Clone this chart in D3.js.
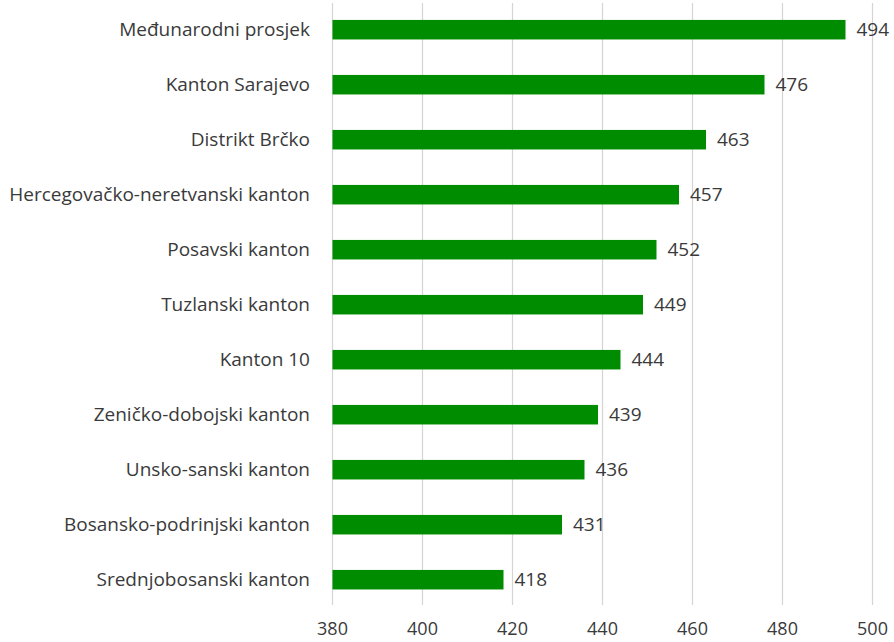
<!DOCTYPE html>
<html>
<head>
<meta charset="utf-8">
<script src="https://cdn.jsdelivr.net/npm/d3@7"></script>
<style>
  body { margin: 0; background: #fff; }
  svg { display: block; }
</style>
</head>
<body>
<svg width="894" height="642"></svg>
<script>
// categories top to bottom
var categories = [
    "Međunarodni prosjek",
    "Kanton Sarajevo",
    "Distrikt Brčko",
    "Hercegovačko-neretvanski kanton",
    "Posavski kanton",
    "Tuzlanski kanton",
    "Kanton 10",
    "Zeničko-dobojski kanton",
    "Unsko-sanski kanton",
    "Bosansko-podrinjski kanton",
    "Srednjobosanski kanton"
];
var values = [494, 476, 463, 457, 452, 449, 444, 439, 436, 431, 418];
var ticks = [380, 400, 420, 440, 460, 480, 500];

var data = [];
for (var i = 0; i < categories.length; i++) {
    data.push({name: categories[i], value: values[i]});
}

var svg = d3.select("svg"),
    font = "19px 'Open Sans', sans-serif";

var x = d3.scaleLinear()
    .domain([380, 500])
    .range([332.5, 872.5]);

var y = d3.scaleBand()
    .domain(categories)
    .range([2.2, 607.2])
    .paddingInner(0.645)
    .paddingOuter(0.3225);

// grid lines
svg.append("g")
    .selectAll("line")
    .data(ticks)
    .enter().append("line")
    .attr("x1", function (d) { return x(d); })
    .attr("x2", function (d) { return x(d); })
    .attr("y1", 3)
    .attr("y2", 605)
    .attr("stroke", "#d4d4d4")
    .attr("stroke-width", 1.2);

// x axis labels
svg.append("g")
    .selectAll("text")
    .data(ticks)
    .enter().append("text")
    .attr("x", function (d) { return x(d); })
    .attr("y", 635)
    .attr("text-anchor", "middle")
    .style("font", "18px 'Open Sans', sans-serif")
    .attr("fill", "#3a3a3a")
    .text(function (d) { return d; });

// bars
svg.append("g")
    .selectAll("rect")
    .data(data)
    .enter().append("rect")
    .attr("x", x(380))
    .attr("y", function (d) { return y(d.name); })
    .attr("width", function (d) { return x(d.value) - x(380); })
    .attr("height", y.bandwidth())
    .attr("fill", "#008c00");

// category labels
svg.append("g")
    .selectAll("text")
    .data(data)
    .enter().append("text")
    .attr("x", 310)
    .attr("y", function (d) { return y(d.name) + y.bandwidth() / 2; })
    .attr("dy", ".35em")
    .attr("text-anchor", "end")
    .style("font", font)
    .attr("fill", "#3a3a3a")
    .text(function (d) { return d.name; });

// value labels
svg.append("g")
    .selectAll("text")
    .data(data)
    .enter().append("text")
    .attr("x", function (d) { return x(d.value) + 11; })
    .attr("y", function (d) { return y(d.name) + y.bandwidth() / 2; })
    .attr("dy", ".35em")
    .style("font", font)
    .attr("fill", "#3a3a3a")
    .text(function (d) { return d.value; });
</script>
</body>
</html>
